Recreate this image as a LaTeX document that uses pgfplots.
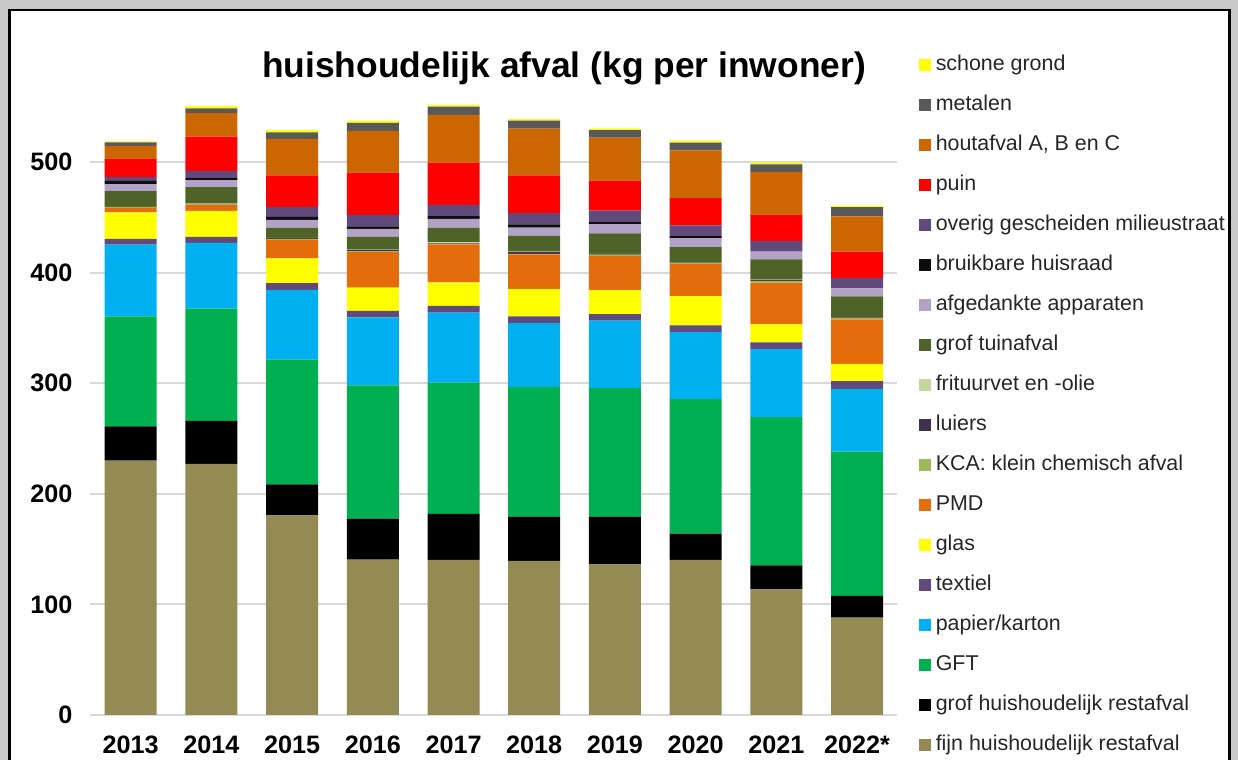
\documentclass[border=0pt]{standalone}
\usepackage{fontspec}
\setmainfont{Liberation Sans}
\usepackage{pgfplots}
\usepackage{pgfplotstable}
\pgfplotsset{compat=1.18}

\definecolor{cFijn}{HTML}{948A54}
\definecolor{cGrof}{HTML}{000000}
\definecolor{cGFT}{HTML}{00B050}
\definecolor{cPapier}{HTML}{00B0F0}
\definecolor{cTextiel}{HTML}{604A7B}
\definecolor{cGlas}{HTML}{FFFF00}
\definecolor{cPMD}{HTML}{E46C0A}
\definecolor{cKCA}{HTML}{9BBB59}
\definecolor{cLuiers}{HTML}{403151}
\definecolor{cFrituur}{HTML}{C3D69B}
\definecolor{cTuin}{HTML}{4F6228}
\definecolor{cAfged}{HTML}{B3A2C7}
\definecolor{cBruik}{HTML}{0D0D0D}
\definecolor{cOverig}{HTML}{604A7B}
\definecolor{cPuin}{HTML}{FF0000}
\definecolor{cHout}{HTML}{CC6600}
\definecolor{cMetalen}{HTML}{595959}
\definecolor{cSchone}{HTML}{FFFF00}
\definecolor{legtext}{HTML}{262626}

% kg per inwoner, 2013 .. 2022*
\pgfplotstableread{
x fijn grof gft papier textiel glas pmd kca luiers frituur tuin afged bruik overig puin hout metalen schone
0 230   31   99.5  65   5   24   4.2  0.5 0.2 0.2 14.2 6   3.7 2.9  16.3 12.1 3   1
1 227   39   101.5 59.5 5.5 23.5 5.4  0.5 0.2 0.3 15   6.3 1.8 6.7  30.8 21.3 4.3 2
2 180.5 28   113   63   6   22.5 16.5 1   0.8 0.2 9.2  7   2.7 9    28.6 33   6   2
3 140.5 37   120.5 61.5 6   21   32.3 0.4 1.4 0.2 11.9 6.9 2.4 10.2 38.4 37.7 7.2 1.8
4 140.3 41.6 118.8 63.1 6.3 21.1 34.4 0.5 0.5 1   13.2 7.8 2.5 10.2 38.3 43.1 7.6 1.2
5 139.4 40.1 117.3 57.6 6   24.8 31.4 0.4 1.6 0.4 14.5 7.2 3   10.2 34.1 42.3 7.3 1.4
6 136.3 43.2 116.1 61   5.9 21.8 30.7 1.2 0.4 0.4 18.6 8.4 1.8 10.3 27.2 38.9 6.8 1.3
7 140.3 23.8 121.5 60.7 6   26.5 29   1.2 0.3 0.2 13.7 8.1 1.8 9.7  24.7 43.2 6.9 1.9
8 113.7 21.7 133.9 61.6 6   16.6 37.5 1.5 1   0.2 18.3 7   0   9.6  23.5 38.9 7   1.8
9 88    19.7 130.6 56.7 6.9 15.7 40.1 1.3 0.5 0.2 18.9 7.3 0   9.4  23.8 31.9 8.2 1.5
}\afval

\pgfplotsset{
  sq/.style={fill=#1, draw=none,
    legend image code/.code={\fill[fill=#1] (0pt,-3pt) rectangle (6pt,3pt);}},
}

\begin{document}
\begin{tikzpicture}[x=0.5pt, y=0.5pt]
  \useasboundingbox (0,0) rectangle (1238,760);
  \fill[black!22] (0,0) rectangle (1238,760);
  \fill[white] (9.5,0) rectangle (1229.5,750);
  \draw[black, line width=1.25pt] (9.5,-5) -- (9.5,750) -- (1229.5,750) -- (1229.5,-5);

  \node[anchor=base, font=\bfseries\fontsize{17.7}{20}\selectfont] at (564,682)
    {huishoudelijk afval (kg per inwoner)};

  \begin{axis}[
    at={(112,40.7)}, anchor=south west,
    scale only axis, width=403.5pt, height=309.6pt,
    ybar stacked, bar width=26pt,
    xmin=-0.5, xmax=9.5, ymin=0, ymax=560,
    xtick={0,...,9},
    xticklabels={2013,2014,2015,2016,2017,2018,2019,2020,2021,2022*},
    ytick={0,100,...,500},
    axis line style={draw=none}, tick style={draw=none},
    ymajorgrids, major grid style={draw=black!15, line width=1pt},
    ticklabel style={font=\bfseries\fontsize{12.6}{14}\selectfont},
    /pgf/number format/assume math mode=true,
    yticklabel style={xshift=-5.5pt},
    xticklabel style={yshift=-7pt},
    reverse legend,
    legend cell align=left,
    legend style={at={(1.026,1.0715)}, anchor=north west, draw=none, fill=none,
      inner sep=0pt, row sep=7pt, text=legtext,
      font=\fontsize{10.7}{13}\selectfont,
      nodes={inner sep=1.25pt, inner xsep=2.5pt, text height=8pt, text depth=2.5pt}},
  ]
    \addplot[sq=cFijn] table[x=x, y=fijn]{\afval};
    \addlegendentry{fijn huishoudelijk restafval}
    \addplot[sq=cGrof] table[x=x, y=grof]{\afval};
    \addlegendentry{grof huishoudelijk restafval}
    \addplot[sq=cGFT] table[x=x, y=gft]{\afval};
    \addlegendentry{GFT}
    \addplot[sq=cPapier] table[x=x, y=papier]{\afval};
    \addlegendentry{papier/karton}
    \addplot[sq=cTextiel] table[x=x, y=textiel]{\afval};
    \addlegendentry{textiel}
    \addplot[sq=cGlas] table[x=x, y=glas]{\afval};
    \addlegendentry{glas}
    \addplot[sq=cPMD] table[x=x, y=pmd]{\afval};
    \addlegendentry{PMD}
    \addplot[sq=cKCA] table[x=x, y=kca]{\afval};
    \addlegendentry{KCA: klein chemisch afval}
    \addplot[sq=cLuiers] table[x=x, y=luiers]{\afval};
    \addlegendentry{luiers}
    \addplot[sq=cFrituur] table[x=x, y=frituur]{\afval};
    \addlegendentry{frituurvet en -olie}
    \addplot[sq=cTuin] table[x=x, y=tuin]{\afval};
    \addlegendentry{grof tuinafval}
    \addplot[sq=cAfged] table[x=x, y=afged]{\afval};
    \addlegendentry{afgedankte apparaten}
    \addplot[sq=cBruik] table[x=x, y=bruik]{\afval};
    \addlegendentry{bruikbare huisraad}
    \addplot[sq=cOverig] table[x=x, y=overig]{\afval};
    \addlegendentry{overig gescheiden milieustraat}
    \addplot[sq=cPuin] table[x=x, y=puin]{\afval};
    \addlegendentry{puin}
    \addplot[sq=cHout] table[x=x, y=hout]{\afval};
    \addlegendentry{houtafval A, B en C}
    \addplot[sq=cMetalen] table[x=x, y=metalen]{\afval};
    \addlegendentry{metalen}
    \addplot[sq=cSchone] table[x=x, y=schone]{\afval};
    \addlegendentry{schone grond}
  \end{axis}
\end{tikzpicture}
\end{document}
